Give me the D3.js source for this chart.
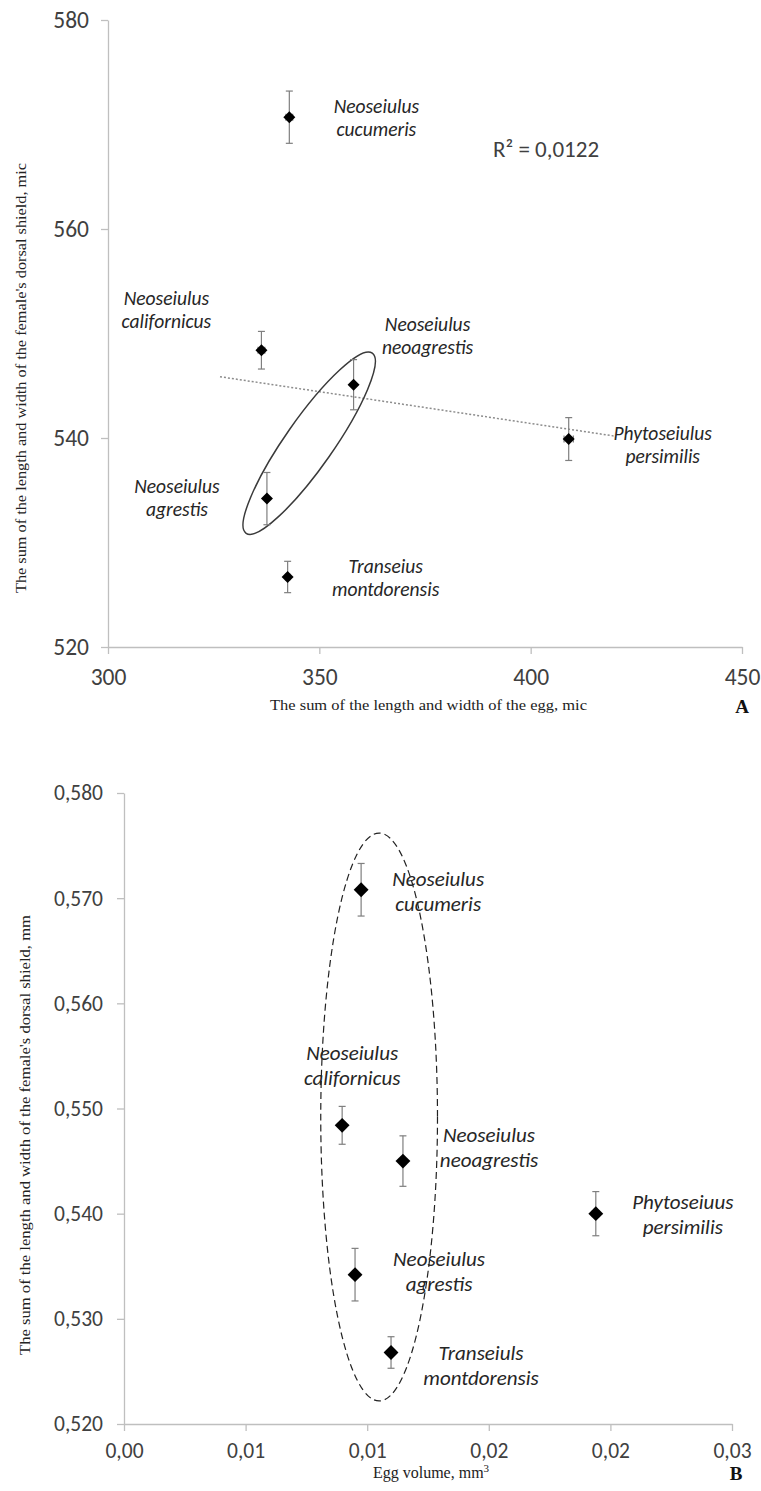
<!DOCTYPE html>
<html><head><meta charset="utf-8">
<script src="https://cdn.jsdelivr.net/npm/d3@7"></script>
<style>body{margin:0;background:#fff} svg{display:block}</style>
</head><body><svg id="c" width="761" height="1491"></svg>
<script>
// ---------- DATA ----------
const species = ["Neoseiulus cucumeris","Neoseiulus californicus","Neoseiulus neoagrestis","Neoseiulus agrestis","Transeius montdorensis","Phytoseiulus persimilis"];
const labelLinesA = [["Neoseiulus","cucumeris"],["Neoseiulus","californicus"],["Neoseiulus","neoagrestis"],["Neoseiulus","agrestis"],["Transeius","montdorensis"],["Phytoseiulus","persimilis"]];
const labelLinesB = [["Neoseiulus","cucumeris"],["Neoseiulus","californicus"],["Neoseiulus","neoagrestis"],["Neoseiulus","agrestis"],["Transeiuls","montdorensis"],["Phytoseiuus","persimilis"]];

// Panel A: sums in microns
const eggSum       = [342.9, 336.3, 358.1, 337.6, 342.5, 409.0];
const eggSumErr    = [0.8, 0.8, 0.3, 0.3, 0.5, 1.1];
const shieldMic    = [570.7, 548.4, 545.1, 534.2, 526.7, 539.9];
const shieldMicErr = [2.5, 1.8, 2.4, 2.5, 1.5, 2.05];
const trendRangeA  = [326.5, 420];
const r2TextA      = "R\u00B2 = 0,0122";
const ellipseA     = {cx: 347.6, cy: 539.5};

// Panel B: egg volume (mm3) vs shield (mm)
const eggVolume    = [0.00975, 0.00897, 0.01147, 0.0095, 0.01098, 0.0194];
const eggVolumeErr = [0.00005, 0.00005, 0.00005, 0.00005, 0.00005, 0.00014];
const shieldMm     = [0.5708, 0.5484, 0.5450, 0.5342, 0.5268, 0.5400];
const shieldMmErr  = [0.0025, 0.0018, 0.0024, 0.0025, 0.0015, 0.0021];
const ellipseB     = {cx: 0.01049, cy: 0.54919, rx: 0.0024, ry: 0.0270};

// Ticks
const xTicksA = [300, 350, 400, 450];
const xTickLabelsA = ["300","350","400","450"];
const yTicksA = [520, 540, 560, 580];
const yTickLabelsA = ["520","540","560","580"];
const xTicksB = [0, 0.005, 0.010, 0.015, 0.020, 0.025];
const xTickLabelsB = ["0,00","0,01","0,01","0,02","0,02","0,03"];
const yTicksB = [0.520, 0.530, 0.540, 0.550, 0.560, 0.570, 0.580];
const yTickLabelsB = ["0,520","0,530","0,540","0,550","0,560","0,570","0,580"];

const xTitleA = "The sum of the length and width of the egg, mic";
const yTitleA = "The sum of the length and width of the female's dorsal shield, mic";
const xTitleB = "Egg volume, mm";
const yTitleB = "The sum of the length and width of the female's dorsal shield, mm";

// ---------- STYLE / LAYOUT ----------
const sans = "Carlito, Lato, 'Open Sans', sans-serif";
const serif = "'Liberation Serif', 'DejaVu Serif', serif";
const axisColor = "#bfbfbf", tickText = "#404040", labelColor = "#262626", errColor = "#7f7f7f";
const labelOffA = [[87,-4],[-95,-45],[74,-54],[-90,-6],[98,-4],[94,1]];
const labelOffB = [[77,-4],[10,-65],[86,-19],[84,-9],[90,8],[87,-5]];

const svg = d3.select("#c");

function drawPanel(o){
  const g = svg.append("g");
  const x = d3.scaleLinear().domain(o.xDomain).range(o.xRange);
  const y = d3.scaleLinear().domain(o.yDomain).range(o.yRange);

  const ax = g.append("g").attr("transform",`translate(0,${o.yRange[0]})`)
    .call(d3.axisBottom(x).tickValues(o.xTicks).tickFormat((d,i)=>o.xTickLabels[i]).tickSizeInner(7).tickSizeOuter(0).tickPadding(o.xPad));
  const ay = g.append("g").attr("transform",`translate(${o.xRange[0]},0)`)
    .call(d3.axisLeft(y).tickValues(o.yTicks).tickFormat((d,i)=>o.yTickLabels[i]).tickSizeInner(7).tickSizeOuter(0).tickPadding(o.yPad));
  [ax, ay].forEach(a=>{
    a.select(".domain").attr("stroke",axisColor).attr("stroke-width",1.3);
    a.selectAll(".tick line").attr("stroke",axisColor).attr("stroke-width",1.3);
    a.selectAll(".tick text").attr("fill",tickText).style("font-family",sans).style("font-size",o.tickFont+"px");
  });

  if (o.extra) o.extra(g, x, y);

  const cap = 3.5;
  const eb = g.append("g").attr("stroke",errColor).attr("stroke-width",1.2).attr("fill","none");
  o.xs.forEach((xv,i)=>{
    const cx = x(xv), cy = y(o.ys[i]);
    const y0 = y(o.ys[i]-o.yErr[i]), y1 = y(o.ys[i]+o.yErr[i]);
    eb.append("line").attr("x1",cx).attr("x2",cx).attr("y1",y0).attr("y2",y1);
    eb.append("line").attr("x1",cx-cap).attr("x2",cx+cap).attr("y1",y0).attr("y2",y0);
    eb.append("line").attr("x1",cx-cap).attr("x2",cx+cap).attr("y1",y1).attr("y2",y1);
    const x0 = x(xv-o.xErr[i]), x1 = x(xv+o.xErr[i]);
    if (x1 - x0 > 3) {
      eb.append("line").attr("x1",x0).attr("x2",x1).attr("y1",cy).attr("y2",cy);
      eb.append("line").attr("x1",x0).attr("x2",x0).attr("y1",cy-cap).attr("y2",cy+cap);
      eb.append("line").attr("x1",x1).attr("x2",x1).attr("y1",cy-cap).attr("y2",cy+cap);
    }
  });

  const side = o.diamond;
  g.append("g").selectAll("rect").data(o.xs).join("rect")
    .attr("x",-side/2).attr("y",-side/2).attr("width",side).attr("height",side)
    .attr("fill","#000")
    .attr("transform",(d,i)=>`translate(${x(d)},${y(o.ys[i])}) rotate(45)`);

  const lg = g.append("g").style("font-family",sans).style("font-style","italic")
    .style("font-size",o.labelFont+"px").attr("fill",labelColor).attr("text-anchor","middle");
  o.labels.forEach((lines,i)=>{
    const px = x(o.xs[i]) + o.labelOff[i][0], py = y(o.ys[i]) + o.labelOff[i][1];
    lines.forEach((t,k)=>{
      lg.append("text").attr("x",px).attr("y",py + k*o.lineH).text(t);
    });
  });
  return {g,x,y};
}

// ---------- PANEL A ----------
drawPanel({
  xDomain:[300,450], xRange:[108,742], yDomain:[520,580], yRange:[647,20],
  xTicks:xTicksA, xTickLabels:xTickLabelsA, yTicks:yTicksA, yTickLabels:yTickLabelsA,
  xPad:14, yPad:12, tickFont:23.5,
  xs:eggSum, xErr:eggSumErr, ys:shieldMic, yErr:shieldMicErr,
  diamond:8.5, labels:labelLinesA, labelOff:labelOffA, labelFont:19.5, lineH:23,
  extra:(g,x,y)=>{
    const mx = d3.mean(eggSum), my = d3.mean(shieldMic);
    const sxy = d3.sum(eggSum,(v,i)=>(v-mx)*(shieldMic[i]-my));
    const sxx = d3.sum(eggSum,v=>(v-mx)*(v-mx));
    const b = sxy/sxx, a = my - b*mx;
    g.append("line").attr("x1",x(trendRangeA[0])).attr("y1",y(a+b*trendRangeA[0]))
      .attr("x2",x(trendRangeA[1])).attr("y2",y(a+b*trendRangeA[1]))
      .attr("stroke","#8c8c8c").attr("stroke-width",1.5).attr("stroke-dasharray","2,2");
    g.append("ellipse").attr("cx",x(ellipseA.cx)).attr("cy",y(ellipseA.cy))
      .attr("rx",110).attr("ry",24)
      .attr("transform",`rotate(-55,${x(ellipseA.cx)},${y(ellipseA.cy)})`)
      .attr("fill","none").attr("stroke","#3a3a3a").attr("stroke-width",1.5);
    g.append("text").attr("x",493).attr("y",157).text(r2TextA)
      .style("font-family",sans).style("font-size","23px").attr("fill",tickText);
  }
});
svg.append("text").attr("x",428.5).attr("y",710).attr("text-anchor","middle")
  .attr("textLength",317).attr("lengthAdjust","spacingAndGlyphs")
  .style("font-family",serif).style("font-size","15px").attr("fill","#222").text(xTitleA);
svg.append("text").attr("transform","translate(26,378) rotate(-90)").attr("text-anchor","middle")
  .attr("textLength",430).attr("lengthAdjust","spacingAndGlyphs")
  .style("font-family",serif).style("font-size","15px").attr("fill","#222").text(yTitleA);
svg.append("text").attr("x",742).attr("y",713).attr("text-anchor","middle")
  .style("font-family",serif).style("font-size","19px").style("font-weight","bold").attr("fill","#111").text("A");

// ---------- PANEL B ----------
drawPanel({
  xDomain:[0,0.025], xRange:[124,732], yDomain:[0.520,0.580], yRange:[1424,793],
  xTicks:xTicksB, xTickLabels:xTickLabelsB, yTicks:yTicksB, yTickLabels:yTickLabelsB,
  xPad:12, yPad:14, tickFont:21.5,
  xs:eggVolume, xErr:eggVolumeErr, ys:shieldMm, yErr:shieldMmErr,
  diamond:10.5, labels:labelLinesB, labelOff:labelOffB, labelFont:21, lineH:25,
  extra:(g,x,y)=>{
    g.append("ellipse").attr("cx",x(ellipseB.cx)).attr("cy",y(ellipseB.cy))
      .attr("rx",x(ellipseB.cx+ellipseB.rx)-x(ellipseB.cx))
      .attr("ry",y(ellipseB.cy)-y(ellipseB.cy+ellipseB.ry))
      .attr("fill","none").attr("stroke","#222").attr("stroke-width",1.2).attr("stroke-dasharray","7,4");
  }
});
const xt = svg.append("text").attr("x",431).attr("y",1478).attr("text-anchor","middle")
  .style("font-family",serif).style("font-size","16px").attr("fill","#222");
xt.append("tspan").text(xTitleB);
xt.append("tspan").attr("dy",-6).style("font-size","11px").text("3");
svg.append("text").attr("transform","translate(30,1135) rotate(-90)").attr("text-anchor","middle")
  .attr("textLength",440).attr("lengthAdjust","spacingAndGlyphs")
  .style("font-family",serif).style("font-size","15px").attr("fill","#222").text(yTitleB);
svg.append("text").attr("x",736).attr("y",1480).attr("text-anchor","middle")
  .style("font-family",serif).style("font-size","19px").style("font-weight","bold").attr("fill","#111").text("B");
</script></body></html>
